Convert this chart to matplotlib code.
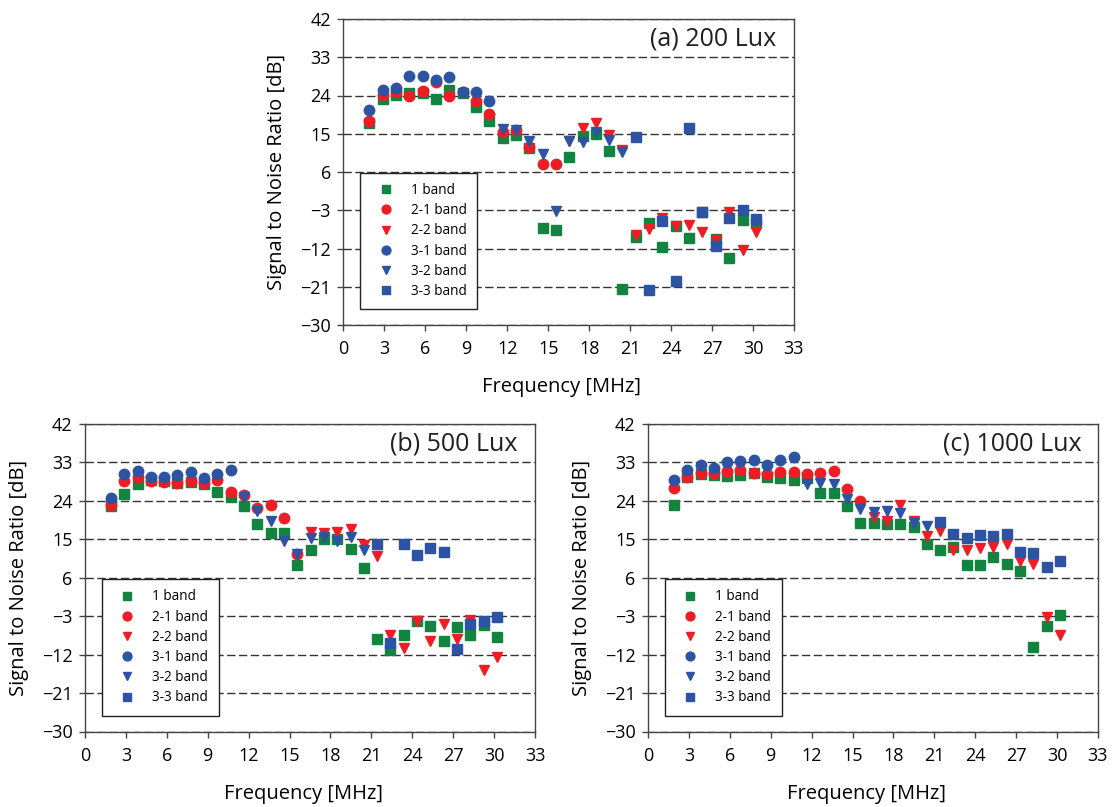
import numpy as np
import matplotlib
matplotlib.use('Agg')
import matplotlib.pyplot as plt

plt.rcParams['font.family'] = ['Open Sans', 'DejaVu Sans']

# measured frequencies [MHz]
freq = [1.90, 2.88, 3.85, 4.83, 5.80, 6.78, 7.76, 8.73, 9.71, 10.68,
        11.66, 12.64, 13.61, 14.59, 15.56, 16.54, 17.52, 18.49, 19.47, 20.44,
        21.42, 22.40, 23.37, 24.35, 25.32, 26.30, 27.28, 28.25, 29.23, 30.20]

# (a) 200 Lux
a_band1 = [17.5, 23.1, 24.1, 24.7, 24.5, 23.1, 25.2, 24.5, 21.2, 17.9,
           14.1, 14.7, 11.6, -7.1, -7.7, 9.5, 14.5, 14.9, 11.0, -21.5,
           -9.2, -6.0, -11.6, -6.7, -9.5, -3.4, -9.8, -14.3, -5.3, -6.1]
a_band21 = [18.1, 24.1, 24.8, 24.0, 25.0, 27.1, 23.8, 24.8, 22.8, 19.7,
            15.3, 15.8, 12.0, 7.9, 7.9]
a_band22 = [13.4, 16.3, 17.6, 14.6, 11.2, -8.8, -7.4, -4.9, -6.8, -6.4,
            -8.0, -10.0, -3.3, -12.3, -8.2]
a_band31 = [20.5, 25.3, 25.7, 28.5, 28.5, 27.7, 28.4, 24.8, 24.8, 22.7]
a_band32 = [16.1, 15.9, 13.2, 10.2, -3.1, 13.4, 13.1, 15.3, 13.5, 10.6]
a_band33 = [14.3, -21.7, -5.6, -19.7, 16.3, -3.4, -11.4, -4.9, -2.9, -5.0]

# (b) 500 Lux
b_band1 = [22.7, 25.5, 27.9, 28.9, 28.7, 28.1, 28.5, 27.9, 26.0, 25.0,
           22.7, 18.5, 16.5, 16.5, 9.1, 12.4, 15.1, 15.1, 12.8, 8.2,
           -8.3, -10.9, -7.3, -4.2, -5.3, -8.7, -5.6, -7.4, -5.0, -7.8]
b_band21 = [23.0, 28.7, 29.6, 28.7, 28.5, 28.2, 28.7, 28.3, 28.8, 26.1,
            25.3, 22.3, 23.1, 19.9, 11.6]
b_band22 = [16.8, 16.5, 16.8, 17.3, 13.6, 11.1, -7.5, -10.5, -4.2, -8.7,
            -4.8, -8.3, -4.0, -15.7, -12.6]
b_band31 = [24.6, 30.3, 30.9, 29.5, 29.7, 30.1, 30.8, 29.3, 30.4, 31.2]
b_band32 = [24.8, 21.6, 19.3, 14.7, 11.6, 15.2, 15.5, 14.6, 15.6, 12.6]
b_band33 = [13.8, -9.3, 14.0, 11.3, 13.0, 12.0, -10.7, -4.8, -4.1, -3.2]

# (c) 1000 Lux
c_band1 = [23.0, 29.6, 30.3, 30.1, 29.9, 30.0, 30.5, 29.6, 29.4, 28.8,
           29.3, 25.8, 25.9, 22.7, 18.9, 18.9, 18.7, 18.7, 17.9, 14.0,
           12.5, 13.1, 9.1, 9.1, 10.9, 9.3, 7.6, -10.3, -5.2, -2.8]
c_band21 = [26.9, 29.6, 30.6, 30.6, 30.9, 31.2, 30.6, 30.3, 30.8, 30.8,
            30.3, 30.6, 30.9, 26.7, 23.9]
c_band22 = [20.3, 19.4, 23.0, 19.2, 15.8, 16.9, 12.4, 12.4, 12.9, 13.1,
            13.8, 10.0, 9.2, -3.3, -7.4]
c_band31 = [28.8, 31.2, 32.4, 31.8, 33.0, 33.4, 33.5, 32.5, 33.5, 34.3]
c_band32 = [27.9, 28.1, 27.9, 24.4, 22.0, 21.4, 21.6, 21.1, 18.9, 18.1]
c_band33 = [19.1, 16.3, 15.4, 15.9, 15.8, 16.3, 12.1, 11.9, 8.6, 9.9]

labels = ['1 band', '2-1 band', '2-2 band', '3-1 band', '3-2 band', '3-3 band']
green = '#13843f'
red = '#ee1d25'
blue = '#2d53a3'
W, H = 1117, 807


def draw(ax, title, vals, title_x):
    b1, b21, b22, b31, b32, b33 = vals
    ax.plot(freq, b1, 's', color=green, ms=7, label=labels[0])
    ax.plot(freq[:15], b21, 'o', color=red, ms=7.5, label=labels[1])
    ax.plot(freq[15:], b22, 'v', color=red, ms=7.5, label=labels[2])
    ax.plot(freq[:10], b31, 'o', color=blue, ms=7.5, label=labels[3])
    ax.plot(freq[10:20], b32, 'v', color=blue, ms=7.5, label=labels[4])
    ax.plot(freq[20:], b33, 's', color=blue, ms=7, label=labels[5])

    ax.set_xlim(0, 33)
    ax.set_ylim(-30, 42)
    ax.set_xticks(np.arange(0, 34, 3))
    ax.set_yticks(np.arange(-30, 43, 9))
    ax.yaxis.grid(True, color='#333333', linestyle=(0, (6, 2.5)), linewidth=1.0)
    ax.set_axisbelow(True)
    for s in ax.spines.values():
        s.set_color('#444444')
        s.set_linewidth(1.0)
    ax.tick_params(axis='both', direction='out', length=4, width=1,
                   color='#444444', labelsize=13)
    ax.tick_params(axis='y', pad=5)
    ax.tick_params(axis='x', pad=7)
    ax.set_xlabel('Frequency [MHz]', fontsize=14.5)
    ax.set_ylabel('Signal to Noise Ratio [dB]', fontsize=14.5)
    ax.xaxis.set_label_coords(0.485, -0.17)
    ax.yaxis.set_label_coords(-0.124, 0.5)
    ax.text(title_x, 0.935, title, transform=ax.transAxes, ha='right',
            va='center', fontsize=18, color='#231f20')
    leg = ax.legend(loc='lower left', bbox_to_anchor=(0.038, 0.052),
                    borderaxespad=0, fontsize=9.8, markerscale=0.85,
                    fancybox=False, framealpha=1, edgecolor='#222222',
                    borderpad=0.75, handlelength=2.2, handletextpad=0.75,
                    labelspacing=0.38)
    leg.get_frame().set_linewidth(1.0)


fig = plt.figure(figsize=(W / 100, H / 100), dpi=100)
ax_a = fig.add_axes([343.3 / W, 1 - 325 / H, 450.7 / W, 306 / H])
ax_b = fig.add_axes([85 / W, 1 - 731.5 / H, 450 / W, 307.5 / H])
ax_c = fig.add_axes([648 / W, 1 - 731.5 / H, 450 / W, 307.5 / H])

draw(ax_a, '(a) 200 Lux',
     [a_band1, a_band21, a_band22, a_band31, a_band32, a_band33], 0.96)
draw(ax_b, '(b) 500 Lux',
     [b_band1, b_band21, b_band22, b_band31, b_band32, b_band33], 0.96)
draw(ax_c, '(c) 1000 Lux',
     [c_band1, c_band21, c_band22, c_band31, c_band32, c_band33], 0.964)

fig.savefig('out.png', dpi=100)
